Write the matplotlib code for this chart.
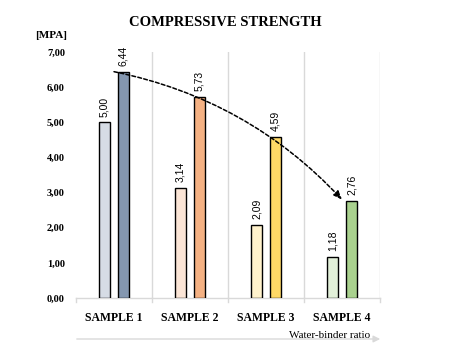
import matplotlib
matplotlib.use("Agg")
import matplotlib.pyplot as plt
import numpy as np

categories = ["SAMPLE 1", "SAMPLE 2", "SAMPLE 3", "SAMPLE 4"]
series_a = [5.00, 3.14, 2.09, 1.18]
series_b = [6.44, 5.73, 4.59, 2.76]
colors_a = ["#D6DCE5", "#FBE5D6", "#FFF2CC", "#E2F0D9"]
colors_b = ["#8497B0", "#F4B183", "#FFD966", "#A9D18E"]
yticks = [0, 1, 2, 3, 4, 5, 6, 7]

serif = "Liberation Serif"
sans = "Liberation Sans"

fig = plt.figure(figsize=(4.51, 3.60), dpi=100)
ax = fig.add_axes([76/451, 1-298/360, 304/451, 246/360])

x = np.arange(1, len(categories)+1)
off = 0.125
w = 0.135
ax.bar(x-off, series_a, w, color=colors_a, edgecolor="black", linewidth=1.0, zorder=3)
ax.bar(x+off, series_b, w, color=colors_b, edgecolor="black", linewidth=1.0, zorder=3)

for xi, v in zip(x-off, series_a):
    ax.annotate(f"{v:.2f}".replace(".", ","), (xi, v), xytext=(0, 4), textcoords="offset points",
                rotation=90, ha="center", va="bottom", fontsize=7.5, family=sans)
for xi, v in zip(x+off, series_b):
    ax.annotate(f"{v:.2f}".replace(".", ","), (xi, v), xytext=(0, 4), textcoords="offset points",
                rotation=90, ha="center", va="bottom", fontsize=7.5, family=sans)

ax.set_xlim(0.5, len(categories)+0.5)
ax.set_ylim(0, 7)
ax.set_yticks(yticks)
ax.set_yticklabels([f"{t:.2f}".replace(".", ",") for t in yticks], family=serif,
                   fontsize=7.5, fontweight="bold")
ax.tick_params(axis="y", length=0, pad=8)

ax.set_xticks(x)
ax.set_xticklabels(categories, family=serif, fontsize=8.5, fontweight="bold")
ax.tick_params(axis="x", length=0, pad=10)

for b in np.arange(1.5, len(categories)+0.6, 1.0):
    ax.axvline(b, color="#D9D9D9", linewidth=1.0, zorder=1)
for b in np.arange(0.5, len(categories)+0.6, 1.0):
    ax.plot([b, b], [0, -0.12], color="#D9D9D9", linewidth=1.0, clip_on=False, zorder=1)

for s in ["top", "right", "left"]:
    ax.spines[s].set_visible(False)
ax.spines["bottom"].set_color("#D9D9D9")
ax.spines["bottom"].set_linewidth(1.0)

# trend arrow
ax.annotate("", xy=(x[-1], series_b[-1] + 0.04), xytext=(x[0], series_b[0]),
            arrowprops=dict(arrowstyle="-|>,head_length=0.5,head_width=0.2", linestyle=(0, (2.5, 1.5)),
                            color="black", linewidth=1.1,
                            connectionstyle="arc3,rad=-0.16", shrinkA=0, shrinkB=0),
            zorder=5)

fig.text(225/451, 1-23/360, "COMPRESSIVE STRENGTH", ha="center", va="center",
         family=serif, fontsize=10.5, fontweight="bold")
fig.text(35/451, 1-36/360, "[MPA]", ha="left", va="center", family=serif,
         fontsize=8, fontweight="bold")
fig.text(370/451, 1-335/360, "Water-binder ratio", ha="right", va="center",
         family=serif, fontsize=8)
fig.patches.append(matplotlib.patches.FancyArrowPatch(
    (74/451, 1-339/360), (383/451, 1-339/360), transform=fig.transFigure,
    arrowstyle="-|>,head_length=0.4,head_width=0.2", color="#D9D9D9", linewidth=1.0,
    mutation_scale=10))

fig.savefig("out.png", dpi=100)
